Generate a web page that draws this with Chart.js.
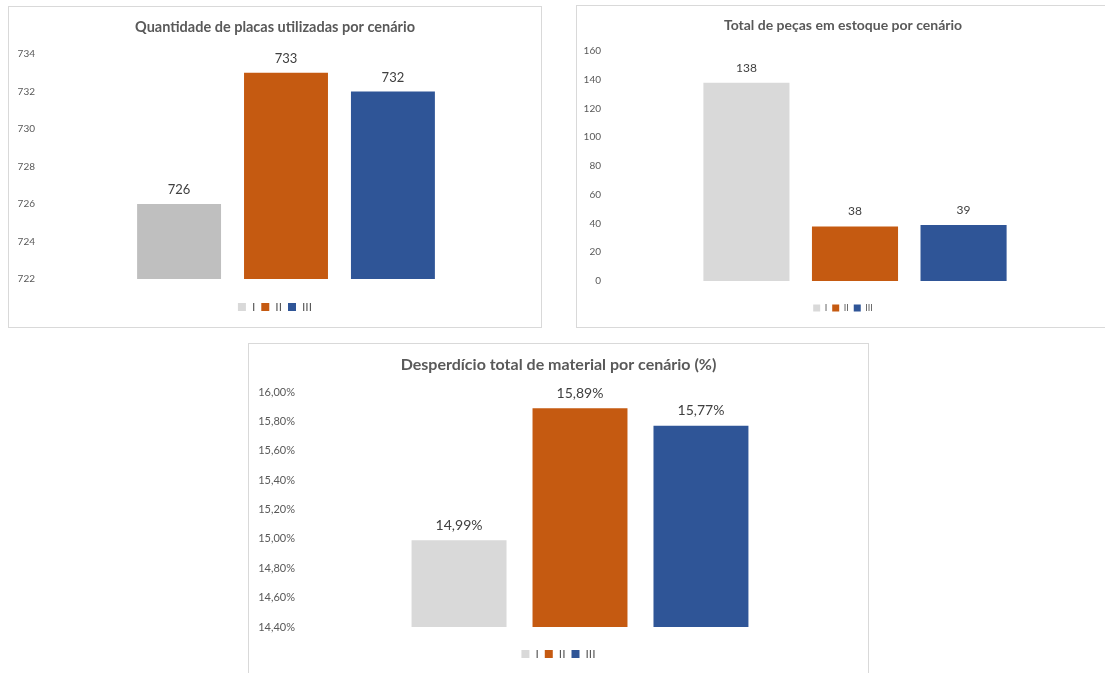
<!DOCTYPE html>
<html><head><meta charset="utf-8">
<script src="https://cdn.jsdelivr.net/npm/chart.js@4.4.0/dist/chart.umd.min.js"></script>
<style>
html,body{margin:0;padding:0;background:#fff;width:1105px;height:673px;overflow:hidden;position:relative}
.box{position:absolute;border:1px solid #d9d9d9;box-sizing:border-box;pointer-events:none}
canvas{position:absolute}
</style></head><body>
<canvas id="c1" width="534" height="322" style="left:8px;top:6px"></canvas>
<div class="box" style="left:8px;top:6px;width:534px;height:322px"></div>
<canvas id="c2" width="534" height="323" style="left:576px;top:5px"></canvas>
<div class="box" style="left:576px;top:5px;width:534px;height:323px"></div>
<canvas id="c3" width="621" height="335" style="left:248px;top:343px"></canvas>
<div class="box" style="left:248px;top:343px;width:621px;height:335px"></div>
<script>
// ---- data ----
const scenarios = ['I', 'II', 'III'];
const placasValues = [726, 733, 732];
const estoqueValues = [138, 38, 39];
const desperdicioValues = [14.99, 15.89, 15.77];
const placasTicks = [722, 724, 726, 728, 730, 732, 734];
const estoqueTicks = [0, 20, 40, 60, 80, 100, 120, 140, 160];
const desperdicioTicks = [14.4, 14.6, 14.8, 15.0, 15.2, 15.4, 15.6, 15.8, 16.0];
const titles = [
  'Quantidade de placas utilizadas por cenário',
  'Total de peças em estoque por cenário',
  'Desperdício total de material por cenário (%)'
];

// ---- styles ----
const barColors1 = ['#bfbfbf', '#c55a11', '#2f5597'];
const barColors = ['#d9d9d9', '#c55a11', '#2f5597'];
const legendColors = ['#d9d9d9', '#c55a11', '#2f5597'];
const FONT = 'Lato, "Open Sans", sans-serif';

const valueLabels = {
  id: 'valueLabels',
  afterDatasetsDraw(chart, args, opts) {
    const ctx = chart.ctx;
    ctx.save();
    ctx.font = opts.size + 'px ' + FONT;
    ctx.fillStyle = '#404040';
    ctx.textAlign = 'center';
    ctx.textBaseline = 'middle';
    chart.data.datasets.forEach((ds, i) => {
      chart.getDatasetMeta(i).data.forEach((bar, j) => {
        ctx.fillText(opts.format(ds.data[j]), bar.x, bar.y - opts.offset);
      });
    });
    ctx.restore();
  }
};

function makeChart(id, p) {
  const datasets = scenarios.map((s, i) => ({
    label: s,
    data: [p.values[i]],
    backgroundColor: p.colors[i],
    borderWidth: 0,
    categoryPercentage: p.catPct,
    barPercentage: p.barPct
  }));
  const ticks = p.ticks;
  return new Chart(document.getElementById(id), {
    type: 'bar',
    data: { labels: [''], datasets },
    plugins: [valueLabels],
    options: {
      responsive: false,
      animation: false,
      devicePixelRatio: 1,
      layout: { padding: { left: 0, right: 0, top: 0, bottom: p.padBottom } },
      scales: {
        x: {
          type: 'category', display: true,
          grid: { display: false, drawTicks: false },
          border: { display: false },
          ticks: { display: false },
          afterFit(s) { s.height = p.xH; }
        },
        y: {
          type: 'linear', position: 'left',
          min: ticks[0], max: ticks[ticks.length - 1],
          grid: { display: false, drawTicks: false },
          border: { display: false },
          afterBuildTicks(s) { s.ticks = ticks.map(v => ({ value: v })); },
          ticks: {
            padding: 5,
            color: '#595959',
            font: { family: FONT, size: p.tickSize },
            callback: p.tickFmt
          },
          afterFit(s) { s.width = p.yW; }
        },
        yR: {
          type: 'linear', position: 'right', display: true,
          grid: { display: false, drawTicks: false },
          border: { display: false },
          ticks: { display: false },
          afterFit(s) { s.width = p.rW; }
        }
      },
      plugins: {
        tooltip: { enabled: false },
        title: {
          display: true,
          text: p.title,
          color: '#595959',
          font: { family: FONT, size: p.titleSize, weight: 'bold', lineHeight: 1.2 },
          padding: { top: p.tPadTop, bottom: p.tPadBottom }
        },
        legend: {
          display: true,
          position: 'bottom',
          labels: {
            color: '#595959',
            font: { family: FONT, size: p.legSize },
            boxWidth: p.legBox,
            boxHeight: p.legBox,
            padding: p.legPad,
            generateLabels(chart) {
              return Chart.defaults.plugins.legend.labels.generateLabels(chart).map((l, i) => ({
                ...l, fillStyle: legendColors[i], strokeStyle: legendColors[i], lineWidth: 0
              }));
            }
          }
        },
        valueLabels: { size: p.labelSize, offset: p.labelOffset, format: p.labelFmt }
      }
    }
  });
}

const pctFmt = v => Number(v).toFixed(2).replace('.', ',') + '%';

makeChart('c1', {
  values: placasValues, colors: barColors1, ticks: placasTicks, title: titles[0],
  catPct: 0.652, barPct: 0.785, yW: 32, rW: 10, xH: 16, padBottom: 5,
  titleSize: 14.5, tPadTop: 12.3, tPadBottom: 18.3,
  legSize: 12, legBox: 8, legPad: 6, tickSize: 10,
  tickFmt: v => String(v), labelSize: 13, labelOffset: 14, labelFmt: v => String(v)
});
makeChart('c2', {
  values: estoqueValues, colors: barColors, ticks: estoqueTicks, title: titles[1],
  catPct: 0.654, barPct: 0.793, yW: 30, rW: 6, xH: 17.5, padBottom: 5.5,
  titleSize: 14, tPadTop: 11.6, tPadBottom: 17.6,
  legSize: 9, legBox: 7, legPad: 5, tickSize: 10,
  tickFmt: v => String(v), labelSize: 12, labelOffset: 15, labelFmt: v => String(v)
});
makeChart('c3', {
  values: desperdicioValues, colors: barColors, ticks: desperdicioTicks, title: titles[2],
  catPct: 0.648, barPct: 0.785, yW: 52, rW: 9, xH: 15, padBottom: 8,
  titleSize: 16, tPadTop: 12.4, tPadBottom: 17.4,
  legSize: 12, legBox: 8, legPad: 6, tickSize: 11,
  tickFmt: pctFmt, labelSize: 14, labelOffset: 15, labelFmt: pctFmt
});
</script>
</body></html>
